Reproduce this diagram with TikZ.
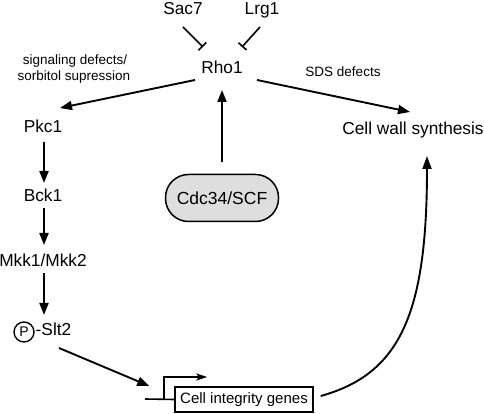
\documentclass[tikz,border=0pt]{standalone}
\usepackage{fontspec}
\setmainfont{Liberation Sans}
\usetikzlibrary{arrows.meta}
\begin{document}
\begin{tikzpicture}[x=1pt,y=1pt,
  lbl/.style={font=\fontsize{17.3}{20}\selectfont, inner sep=0pt, anchor=base},
  small/.style={font=\fontsize{13.5}{16}\selectfont, inner sep=0pt, anchor=base},
  arr/.style={line width=1.9pt, -{Triangle[length=12pt,width=9pt]}},
  inh/.style={line width=1.6pt, -{Bar[width=11pt,line width=1.6pt]}},
  promline/.style={line width=1.6pt},
  promarr/.style={line width=1.5pt, -{Stealth[length=11pt,width=7pt,inset=2.5pt]}},
  curvearr/.style={line width=1.9pt, -{Triangle[length=13pt,width=9pt]}},
  pill/.style={draw, line width=1.5pt, fill=black!13, rectangle, rounded corners=23pt,
     minimum width=113pt, minimum height=47pt, inner sep=0pt, font=\fontsize{17.5}{20}\selectfont},
  genebox/.style={draw, line width=1.5pt, rectangle, minimum width=138pt, minimum height=25pt,
     inner sep=0pt, font=\fontsize{15}{18}\selectfont},
  pcircle/.style={draw, circle, line width=1.4pt, minimum size=20pt, inner sep=0pt,
     font=\fontsize{14}{16}\selectfont}
]
\useasboundingbox (0,0) rectangle (484,414);

% nodes
\node[lbl] (sac) at (183,399) {Sac7};
\node[lbl] (lrg) at (262,399) {Lrg1};
\node[lbl] (rho) at (222,340) {Rho1};
\node[small] (sig1) at (75,349) {signaling defects/};
\node[small] (sig2) at (74,333) {sorbitol supression};
\node[small] (sds) at (343,337) {SDS defects};
\node[lbl] (pkc) at (43,281) {Pkc1};
\node[lbl] (cws) at (413,279) {Cell wall synthesis};
\node[lbl] (bck) at (43,212) {Bck1};
\node[lbl] (mkk) at (43,147) {Mkk1/Mkk2};
\node[pcircle] (pc) at (24,82) {P};
\node[lbl] (slt) at (53.5,78) {-Slt2};
\node[pill] (cdc) at (222,216) {Cdc34/SCF};
\node[genebox] (genes) at (244,14.5) {Cell integrity genes};
\coordinate (prom) at (145,15);

% inhibition
\draw[inh] ([shift={(0,-12)}]sac.base) -- ([shift={(-19,27)}]rho.base);
\draw[inh] ([shift={(-2,-12)}]lrg.base) -- ([shift={(20,27)}]rho.base);

% activation arrows
\draw[arr] ([shift={(-27,-6)}]rho.base) -- ([shift={(17,25)}]pkc.base);
\draw[arr] ([shift={(35,-6)}]rho.base) -- ([shift={(-3,23)}]cws.base);
\draw[arr] ([shift={(0,11.5)}]cdc.north) -- ([shift={(0,-16)}]rho.base);
\draw[arr] ([shift={(1,-9)}]pkc.base) -- ([shift={(1,19)}]bck.base);
\draw[arr] ([shift={(1,-6)}]bck.base) -- ([shift={(1,22)}]mkk.base);
\draw[arr] ([shift={(1,-6)}]mkk.base) -- ([shift={(-9.5,21)}]slt.base);
\draw[arr] ([shift={(5.5,-12)}]slt.base) -- ([shift={(-25,13.5)}]genes.west);

% promoter
\draw[promline] (prom) -- (genes.west);
\draw[promarr] ([xshift=19pt]prom) |- ([shift={(33,22.5)}]genes.west);

% curve to cell wall synthesis
\draw[curvearr] ([shift={(7,3.5)}]genes.east) .. controls (400,40) and (427,100) .. ([shift={(14,-21)}]cws.base);
\end{tikzpicture}
\end{document}
